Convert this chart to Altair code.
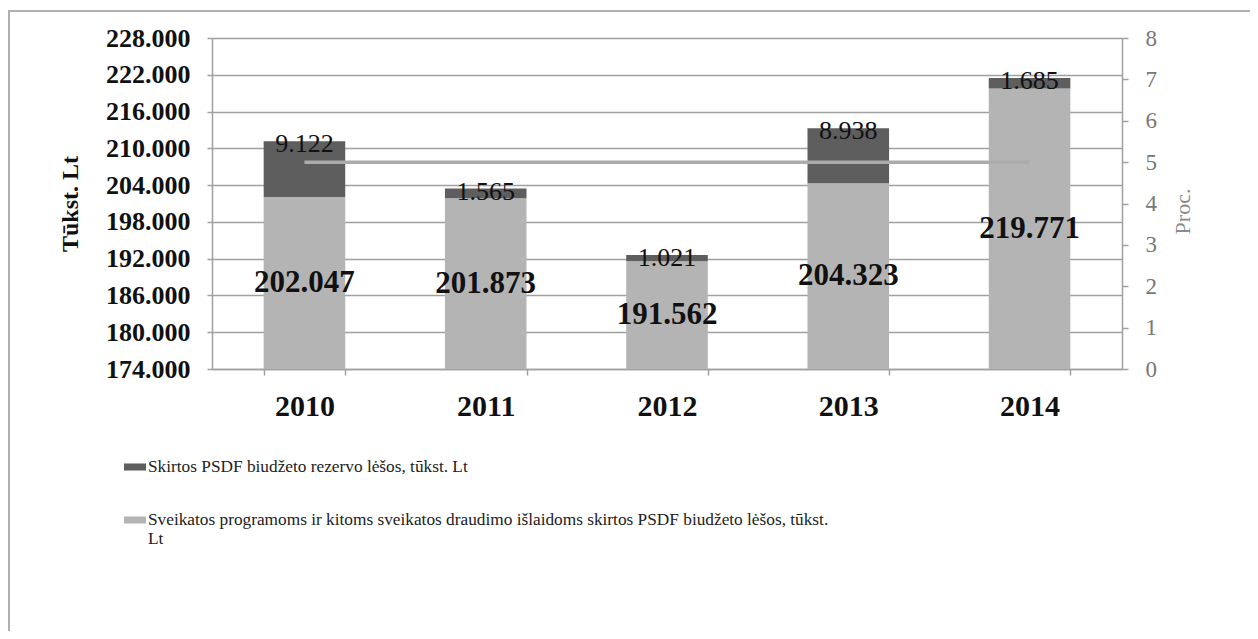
import json
import altair as alt
import pandas as pd

# ---------------- data ----------------
years = ["2010", "2011", "2012", "2013", "2014"]
program_funds = [202047, 201873, 191562, 204323, 219771]   # light segment
reserve_funds = [9122, 1565, 1021, 8938, 1685]              # dark segment
reserve_pct = [5, 5, 5, 5, 5]                                # line, right axis
series_names = [
    "Skirtos PSDF biudžeto rezervo lėšos, tūkst. Lt",
    "Sveikatos programoms ir kitoms sveikatos draudimo išlaidoms skirtos PSDF biudžeto lėšos, tūkst. Lt",
]
series_colors = ["#5e5e5e", "#b4b4b4"]
y_ticks = [174000, 180000, 186000, 192000, 198000, 204000, 210000, 216000, 222000, 228000]
pct_ticks = [0, 1, 2, 3, 4, 5, 6, 7, 8]
y_title = "Tūkst. Lt"
pct_title = "Proc."

Y_MIN, Y_MAX = y_ticks[0], y_ticks[-1]
SERIF = "Liberation Serif"
GRAY = "#a0a0a0"

# ---------------- tables ----------------
rows = []
for i, yr in enumerate(years):
    rows.append({"year": yr, "series": series_names[1], "value": program_funds[i], "order": 0})
    rows.append({"year": yr, "series": series_names[0], "value": reserve_funds[i], "order": 1})
bars_df = pd.DataFrame(rows)
wide_df = pd.DataFrame({
    "year": years,
    "program": program_funds,
    "reserve": reserve_funds,
    "pct": reserve_pct,
})

long_name = series_names[1]
cut = long_name.rfind(" ")
label_expr = "datum.label == {} ? {} : datum.label".format(
    json.dumps(long_name, ensure_ascii=False),
    json.dumps([long_name[:cut], long_name[cut + 1:]], ensure_ascii=False),
)

x_enc = alt.X(
    "year:N",
    sort=years,
    scale=alt.Scale(paddingInner=0.55, paddingOuter=0.285),
    axis=alt.Axis(
        title=None, labelAngle=0, labelFont=SERIF, labelFontSize=30,
        labelFontWeight="bold", labelColor="#111", labelPadding=16,
        tickBand="extent", tickSize=6, tickColor=GRAY, domainColor=GRAY,
        domainWidth=1.5, tickWidth=1.5,
    ),
)
y_scale = alt.Scale(domain=[Y_MIN, Y_MAX], nice=False, zero=False)
y_axis = alt.Axis(
    values=y_ticks, format=",.0f", title=y_title,
    titleFont=SERIF, titleFontSize=24, titleFontWeight="bold",
    titleColor="#111", titlePadding=23,
    labelFont=SERIF, labelFontSize=26, labelFontWeight="bold",
    labelColor="#111", labelPadding=17, tickSize=5,
    tickColor=GRAY, domainColor=GRAY, domainWidth=1.5, tickWidth=1.5,
    grid=True, gridColor=GRAY, gridWidth=1.6,
)

bars = alt.Chart(bars_df).mark_bar(clip=True).encode(
    x=x_enc,
    y=alt.Y("value:Q", stack="zero", scale=y_scale, axis=y_axis),
    color=alt.Color(
        "series:N",
        scale=alt.Scale(domain=series_names, range=series_colors),
        legend=alt.Legend(
            title=None, orient="none", legendX=-88, legendY=418,
            direction="vertical", symbolType="M-1,-0.32H1V0.32H-1Z",
            symbolSize=484, symbolStrokeWidth=0, labelFont=SERIF,
            labelFontSize=17.3, labelColor="#222", labelLimit=1200,
            rowPadding=33, padding=0, labelOffset=2, labelExpr=label_expr,
        ),
    ),
    order=alt.Order("order:Q"),
)

program_labels = alt.Chart(wide_df).transform_calculate(
    mid=f"({Y_MIN} + datum.program) / 2"
).mark_text(font=SERIF, fontSize=31, fontWeight="bold", color="#111").encode(
    x=alt.X("year:N", sort=years),
    y=alt.Y("mid:Q", scale=y_scale, axis=y_axis),
    text=alt.Text("program:Q", format=",.0f"),
)

reserve_labels = alt.Chart(wide_df).transform_calculate(
    total="datum.program + datum.reserve"
).mark_text(font=SERIF, fontSize=26, color="#111", baseline="middle", dy=3).encode(
    x=alt.X("year:N", sort=years),
    y=alt.Y("total:Q", scale=y_scale, axis=y_axis),
    text=alt.Text("reserve:Q", format=",.0f"),
)

left = alt.layer(bars, program_labels, reserve_labels)

line = alt.Chart(wide_df).mark_line(color="#ababab", strokeWidth=3.5).encode(
    x=alt.X("year:N", sort=years),
    y=alt.Y(
        "pct:Q", scale=alt.Scale(domain=[pct_ticks[0], pct_ticks[-1]], nice=False),
        axis=alt.Axis(
            orient="right", values=pct_ticks, format="d", title=pct_title,
            titleFont=SERIF, titleFontSize=22, titleFontWeight="normal",
            titleColor="#8a8a8a", titleAngle=270, titleBaseline="top",
            titleAlign="center", titleX=50, titleY=173,
            labelFont=SERIF, labelFontSize=23, labelColor="#777",
            labelPadding=17, tickSize=6, tickColor=GRAY, domainColor=GRAY,
            domainWidth=1.5, tickWidth=1.5, grid=False,
        ),
    ),
)

frame_df = pd.DataFrame({"k": [0]})
frame_top = alt.Chart(frame_df).mark_rule(color="#b0b0b0", strokeWidth=2).encode(
    x=alt.value(-204), x2=alt.value(1100), y=alt.value(-27)
)
frame_left = alt.Chart(frame_df).mark_rule(color="#b0b0b0", strokeWidth=2).encode(
    x=alt.value(-203), y=alt.value(-27), y2=alt.value(600)
)

chart = alt.layer(left, line, frame_top, frame_left).resolve_scale(
    y="independent"
).properties(
    width=910, height=331,
    autosize=alt.AutoSizeParams(type="none"),
    padding={"left": 204, "top": 30, "right": 128, "bottom": 262},
).configure_view(stroke=None).configure_legend(
    labelFont=SERIF
).configure(
    locale=alt.Locale(number=alt.NumberLocale(
        decimal=",", thousands=".", grouping=[3], currency=["", ""]
    ))
)

chart.save("out.html", embed_options={"renderer": "svg", "actions": False})
